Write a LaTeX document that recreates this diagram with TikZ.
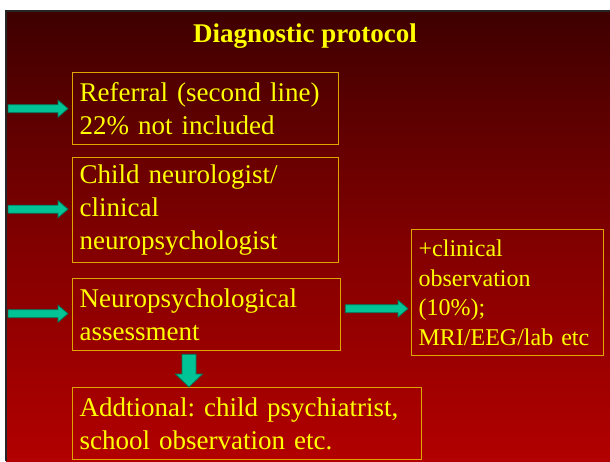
\documentclass[tikz,border=0pt]{standalone}
\usepackage{fontspec}
\setmainfont{Liberation Serif}
\usetikzlibrary{calc}
\frenchspacing
\definecolor{txtyellow}{RGB}{255,255,0}
\definecolor{boxedge}{RGB}{225,165,0}
\definecolor{arrfill}{RGB}{0,196,150}
\definecolor{arredge}{RGB}{0,120,90}
\definecolor{bgtop}{RGB}{62,0,0}
\definecolor{bgbot}{RGB}{178,0,0}
\tikzset{
  stepbox/.style={draw=boxedge, line width=1.3pt, rectangle, anchor=north west,
    text=txtyellow, align=left, inner xsep=7pt, inner ysep=0pt,
    font=\fontsize{27}{33}\selectfont},
  sidebox/.style={stepbox, font=\fontsize{24}{29.5}\selectfont},
  blockarrow/.style={fill=arrfill, draw=arredge, line width=0.8pt, line join=miter},
}
\newcommand{\harrow}[2]{%
  \path[blockarrow] ($(#1)+(0,4)$) -- ($(#2)+(-10,4)$) -- ($(#2)+(-10,8.5)$) -- (#2)
    -- ($(#2)+(-10,-8.5)$) -- ($(#2)+(-10,-4)$) -- ($(#1)+(0,-4)$) -- cycle;}
\begin{document}
\begin{tikzpicture}[x=1pt,y=-1pt]
\useasboundingbox (0,0) rectangle (610,461);
\fill[white] (0,0) rectangle (610,461);
\shade[top color=bgtop, bottom color=bgbot, middle color={rgb,255:red,128;green,0;blue,0}] (6,11) rectangle (610,461);
\draw[black!85, line width=2pt] (6,461) -- (6,11) -- (610,11);

\node[text=txtyellow, font=\bfseries\fontsize{27}{32}\selectfont] (title) at (305,36) {Diagnostic protocol};

\node[stepbox, text width=252pt, minimum height=72pt] (ref) at (72,72)
  {Referral (second line)\\22\% not included};
\node[stepbox, text width=252pt, minimum height=105pt] (neuro) at (72,157)
  {Child neurologist/\\clinical\\neuropsychologist};
\node[stepbox, text width=254pt, minimum height=72pt] (assess) at (72,278)
  {Neuropsychological\\assessment};
\node[stepbox, text width=335pt, minimum height=72pt] (add) at (72,387)
  {Addtional: child psychiatrist,\\school observation etc.};
\node[sidebox, text width=178pt, minimum height=126pt] (side) at (411,229)
  {+clinical\\observation\\(10\%);\\MRI/EEG/lab etc};

\coordinate (t1) at ($(ref.west)+(-4,0)$);
\coordinate (s1) at (8,0 |- t1);
\coordinate (t2) at ($(neuro.west)+(-4,-1)$);
\coordinate (s2) at (8,0 |- t2);
\coordinate (t3) at ($(assess.west)+(-4,-1)$);
\coordinate (s3) at (8,0 |- t3);
\coordinate (s4) at ($(assess.east)+(4,-6)$);
\coordinate (t4) at ($(side.west |- s4)+(-3,0)$);
\harrow{s1}{t1}
\harrow{s2}{t2}
\harrow{s3}{t3}
\harrow{s4}{t4}

\coordinate (s5) at ($(assess.south west)+(117,3)$);
\coordinate (t5) at ($(add.north west)+(117,0)$);
\path[blockarrow] ($(s5)+(-7,0)$) -- ($(t5)+(-7,-13)$) -- ($(t5)+(-13.5,-13)$) -- (t5)
  -- ($(t5)+(13.5,-13)$) -- ($(t5)+(7,-13)$) -- ($(s5)+(7,0)$) -- cycle;
\end{tikzpicture}
\end{document}
